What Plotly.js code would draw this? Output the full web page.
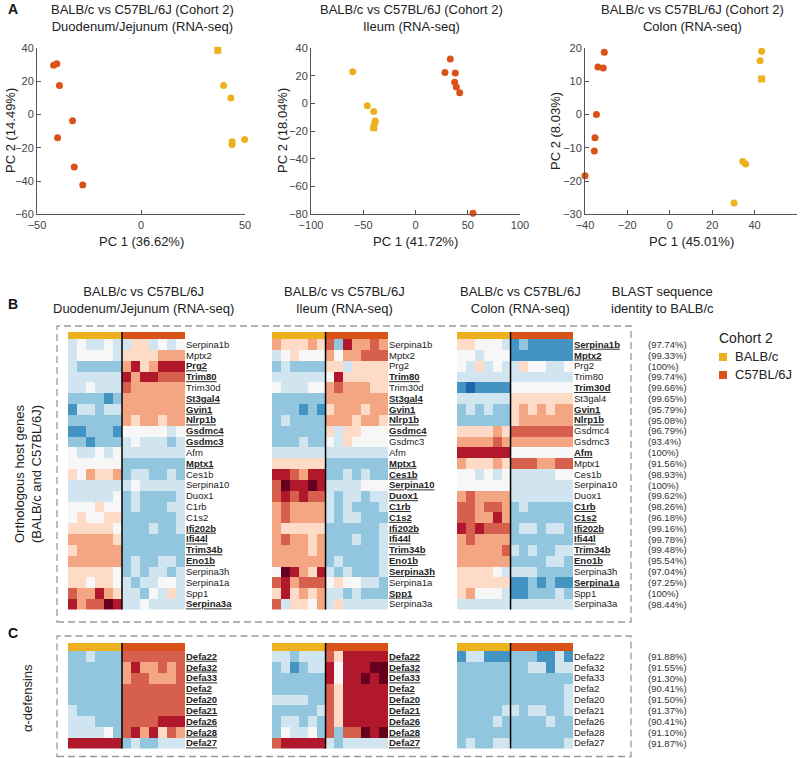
<!DOCTYPE html>
<html><head><meta charset="utf-8">
<script src="https://cdn.plot.ly/plotly-3.0.1.min.js"></script>
<style>html,body{margin:0;padding:0;background:#fff;} #chart{width:800px;height:758px;}</style>
</head><body><div id="chart"></div>
<script>
// ---------- PCA data (panel A) ----------
const duoBalbX = [36.9, 39.7, 43.2, 43.8, 43.8, 49.8];
const duoBalbY = [38.6, 17.4, 10.0, -16.4, -18.0, -15.0];
const duoB6X = [-42.0, -40.5, -39.2, -32.9, -40.1, -32.1, -28.0];
const duoB6Y = [29.6, 30.6, 17.4, -3.8, -14.0, -31.6, -42.4];
const ileBalbX = [-60.1, -46.1, -40.0, -38.5, -39.0, -40.0];
const ileBalbY = [22.8, -1.7, -5.8, -12.6, -14.5, -17.6];
const ileB6X = [33.3, 28.2, 38.1, 37.5, 39.1, 42.3, 55.0];
const ileB6Y = [32.0, 22.4, 21.9, 15.2, 11.8, 7.7, -79.3];
const colBalbX = [43.3, 42.6, 43.3, 34.4, 35.8, 30.3];
const colBalbY = [19.0, 16.2, 10.7, -14.1, -14.9, -26.6];
const colB6X = [-30.9, -33.9, -31.4, -34.6, -35.3, -35.6, -40.0];
const colB6Y = [18.7, 14.3, 14.0, 0.0, -7.0, -11.0, -18.4];
// index of the BALB/c sample drawn as a square in each PCA
const duoSquare = 0, ileSquare = 5, colSquare = 2;
const pcaTitles = ['Duodenum/Jejunum (RNA-seq)', 'Ileum (RNA-seq)', 'Colon (RNA-seq)'];
const pc1Labels = ['PC 1 (36.62%)', 'PC 1 (41.72%)', 'PC 1 (45.01%)'];
const pc2Labels = ['PC 2 (14.49%)', 'PC 2 (18.04%)', 'PC 2 (8.03%)'];

// ---------- Heatmap data (panels B, C) ----------
const groupNames = ['BALB/c', 'C57BL/6J'];
const nBalb = 6, nB6 = 7;
const hostGenes = ['Serpina1b','Mptx2','Prg2','Trim80','Trim30d','St3gal4','Gvin1','Nlrp1b','Gsdmc4','Gsdmc3','Afm','Mptx1','Ces1b','Serpina10','Duox1','C1rb','C1s2','Ifi202b','Ifi44l','Trim34b','Eno1b','Serpina3h','Serpina1a','Spp1','Serpina3a'];
const hostIdentity = ['(97.74%)','(99.33%)','(100%)','(99.74%)','(99.66%)','(99.65%)','(95.79%)','(95.08%)','(96.79%)','(93.4%)','(100%)','(91.56%)','(98.93%)','(100%)','(99.62%)','(98.26%)','(96.18%)','(99.16%)','(99.78%)','(99.48%)','(95.54%)','(97.04%)','(97.25%)','(100%)','(98.44%)'];
const defGenes = ['Defa22','Defa32','Defa33','Defa2','Defa20','Defa21','Defa26','Defa28','Defa27'];
const defIdentity = ['(91.88%)','(91.55%)','(91.30%)','(90.41%)','(91.50%)','(91.37%)','(90.41%)','(91.10%)','(91.87%)'];
// significant (bold, underlined) genes per tissue
const duoSigHost = ['Prg2','Trim80','St3gal4','Gvin1','Nlrp1b','Gsdmc4','Gsdmc3','Mptx1','Ifi202b','Ifi44l','Trim34b','Eno1b','Serpina3a'];
const ileSigHost = ['Trim80','St3gal4','Gvin1','Nlrp1b','Gsdmc4','Mptx1','Ces1b','Serpina10','Duox1','C1rb','C1s2','Ifi202b','Ifi44l','Trim34b','Eno1b','Serpina3h','Spp1'];
const colSigHost = ['Serpina1b','Mptx2','Trim30d','Gvin1','Nlrp1b','Afm','C1rb','C1s2','Ifi202b','Ifi44l','Trim34b','Eno1b','Serpina1a'];
const duoSigDef = defGenes.slice();
const ileSigDef = defGenes.slice();
const colSigDef = [];

// binned z-scores (-4 .. 5), 6 BALB/c then 7 C57BL/6J columns
const duoHostZ = [
 [-1,0,-1,-1,0,-1, -1,1,1,-1,0,-1,0],
 [-1,0,0,0,0,-1, 1,1,1,1,2,2,2],
 [-1,-2,-2,-2,-2,-2, 2,4,1,2,4,4,4],
 [-1,-1,-1,-1,-1,-1, 4,2,4,4,3,3,3],
 [-1,-1,0,-1,-1,-1, 3,2,2,2,2,2,2],
 [-2,-2,-2,-2,-3,-2, 2,2,2,2,2,2,2],
 [-3,-1,-1,-2,-1,-1, 2,2,2,2,2,2,2],
 [-2,-2,-2,-2,-2,-2, 2,1,2,2,1,2,2],
 [-3,-3,-2,-2,-2,-3, 0,0,0,0,0,-1,0],
 [-2,-2,-3,-2,-2,-2, -1,0,-1,-1,-1,-2,-1],
 [0,-1,-1,0,-1,0, -1,-1,-1,-1,-1,-1,-1],
 [0,0,0,0,0,0, -2,-2,-2,-2,-2,-2,-2],
 [1,0,2,1,1,2, -2,-1,-1,-2,-2,-1,-2],
 [-1,-1,-1,-1,-1,-1, -1,0,-1,-1,-1,-1,-1],
 [-1,-1,-1,-1,-1,0, -2,-1,-2,-2,-2,-2,-1],
 [0,0,0,1,0,0, -2,-1,-2,-2,-2,-1,-1],
 [0,1,0,0,1,1, -2,-2,-2,-2,-2,-2,-1],
 [1,1,1,1,1,0, -2,-2,-2,-1,-2,-2,-1],
 [2,2,2,2,2,1, -2,-2,-2,-2,-2,-2,-2],
 [1,2,2,2,2,2, -2,-2,-2,-2,-2,-2,-2],
 [2,2,2,2,2,2, -2,-1,-2,-2,-1,-1,-2],
 [1,1,1,1,1,0, -2,-1,-2,-1,-1,-2,-1],
 [1,1,0,1,1,0, -1,-2,-1,-1,0,0,-1],
 [3,2,2,4,2,1, -1,-1,-2,0,-1,1,-1],
 [4,2,3,3,5,4, -1,-1,0,-1,-1,-1,-1]
];
const ileHostZ = [
 [2,1,1,1,2,1, 3,-2,4,2,2,3,2],
 [-1,0,1,0,0,0, 2,0,2,2,3,3,3],
 [-2,-1,-2,-2,-2,-2, 1,1,-1,1,1,1,1],
 [-1,-1,-1,-1,-1,-1, 0,4,1,1,1,1,1],
 [0,-1,-1,-1,0,0, 2,3,2,2,2,1,1],
 [-2,-2,-2,-2,-2,-2, 2,2,2,2,2,2,2],
 [-2,-2,-2,-3,-2,-3, 1,2,2,2,1,2,2],
 [-2,-1,-2,-2,-2,-2, 2,2,2,1,2,2,1],
 [-2,-2,-2,-2,-2,-2, 1,-1,1,1,0,0,0],
 [-2,-2,-2,-1,-2,-2, 0,-1,1,0,0,0,0],
 [-1,-1,-1,-1,-1,-1, -1,-1,-1,-1,-1,-1,-1],
 [1,1,1,1,1,1, -2,-2,-2,-2,-2,-2,-2],
 [4,4,3,2,4,4, -2,-2,-1,-2,-1,-2,-2],
 [3,5,4,4,5,4, -1,-1,-1,-1,0,0,0],
 [3,4,3,4,3,3, -1,-2,-1,-1,-2,-1,-1],
 [2,3,2,2,2,2, -1,-2,-1,-2,-2,-2,-1],
 [2,3,2,2,2,2, -1,-2,-1,-1,-2,-2,-2],
 [2,1,1,1,1,1, -2,-2,-2,-2,-2,-2,-1],
 [2,3,2,2,1,2, -2,-2,-2,-1,-2,-2,-1],
 [2,2,2,2,1,2, -2,-2,-2,-2,-2,-2,-1],
 [2,2,2,2,2,2, -2,-1,-2,-2,-2,-2,-1],
 [0,5,4,2,1,4, -1,-2,-1,-2,-2,-2,-1],
 [3,4,2,3,3,3, 0,1,0,0,-1,-1,-2],
 [1,4,1,2,1,2, -1,-1,-2,-1,-2,-2,-2],
 [3,-1,1,1,0,2, -1,1,-1,-1,-1,-1,-1]
];
const colHostZ = [
 [1,1,0,0,0,-1, -3,-2,-3,-3,-3,-3,-3],
 [0,0,-1,0,0,0, -3,-3,-3,-3,-3,-3,-3],
 [0,-1,1,-1,0,-1, -1,1,0,0,-1,-1,0],
 [-1,-1,-1,-1,-1,-1, -1,-1,-1,-1,-1,-1,-1],
 [-3,-4,-3,-3,-3,-3, 0,0,0,0,0,0,0],
 [-1,-1,-1,-1,-1,-1, 1,1,1,1,1,1,1],
 [-2,-1,-2,-1,-2,-2, 1,2,1,2,1,2,2],
 [-2,-2,-2,-2,-2,-2, 1,2,2,2,2,2,2],
 [1,1,1,1,2,1, 3,3,3,3,3,3,3],
 [2,2,2,2,3,2, 2,2,2,2,2,2,2],
 [4,4,4,4,4,4, 0,0,0,0,0,0,0],
 [2,1,1,1,2,1, 3,3,3,2,2,3,3],
 [0,0,-1,0,-1,0, -1,-1,-1,-1,-1,0,0],
 [0,0,0,0,0,0, -1,-1,-1,-1,-1,-1,-1],
 [2,3,2,2,2,2, -1,-1,-1,-1,-1,-1,-1],
 [3,3,2,3,3,2, -2,-1,-2,-2,-2,-2,-2],
 [3,3,2,2,4,2, -2,-2,-2,-2,-2,-2,-2],
 [4,3,4,3,3,3, -2,-1,-1,-2,-1,-1,-2],
 [2,3,2,2,2,2, -2,-2,-2,-2,-2,-2,-2],
 [2,2,2,2,2,3, -1,-2,-1,-2,-2,-1,-1],
 [2,2,2,2,2,2, -2,-2,-2,-2,-1,-1,-2],
 [1,1,1,1,0,-1, -1,-1,-1,-2,-2,-2,-2],
 [1,1,1,1,1,1, -3,-3,-2,-3,-2,-3,-3],
 [1,2,0,0,0,-1, -3,-3,-2,-2,-2,-1,-2],
 [-1,-1,-1,-1,-1,-1, -1,-1,-1,-1,-1,-1,-1]
];
const duoDefZ = [
 [-2,-2,-1,-2,-2,-2, 3,3,3,3,3,3,3],
 [-2,-2,-2,-2,-2,-2, 2,4,2,2,3,2,3],
 [-2,-2,-2,-2,-2,-2, 2,3,3,2,2,2,3],
 [-2,-2,-2,-2,-2,-2, 3,3,3,3,3,3,3],
 [-2,-2,-2,-2,-2,-2, 3,3,3,3,3,3,3],
 [-1,-2,-2,-2,-2,-2, 3,3,3,3,3,3,3],
 [-1,-1,-1,-2,-2,-2, 3,3,3,3,4,4,4],
 [-1,-1,-1,-1,0,-2, 3,4,2,4,1,3,2],
 [4,4,4,4,4,4, -2,-1,-2,-2,-1,-1,-1]
];
const ileDefZ = [
 [-1,-1,-2,-1,-1,-1, 3,1,4,4,4,4,4],
 [-2,-1,-3,-2,-1,-1, 4,0,4,4,4,5,5],
 [-2,-2,-2,-2,-2,-2, 4,0,4,4,5,4,5],
 [-2,-2,-2,-2,-2,-2, 3,1,4,4,4,4,4],
 [-1,-1,-1,-1,-2,-2, 3,1,4,4,4,4,4],
 [-2,-2,-2,-2,-2,-1, 3,1,4,4,4,4,4],
 [-2,-1,-1,-2,-1,-2, 3,1,4,4,4,4,4],
 [-2,0,-1,-1,0,-2, 3,-2,3,3,5,4,5],
 [3,4,4,4,4,4, -1,-2,-1,-1,-1,-1,-1]
];
const colDefZ = [
 [-3,-1,-1,-3,-3,-3, -2,-2,-2,-3,-3,-1,-3],
 [-2,-2,-2,-2,-2,-2, -2,-2,-1,-1,-3,-1,-1],
 [-2,-2,-2,-2,-2,-2, -2,-2,-2,-2,-2,-2,-2],
 [-2,-2,-2,-2,-2,-2, -2,-2,-2,-2,-2,-2,-1],
 [-2,-2,-2,-2,-2,-2, -2,-2,-2,-2,-2,-2,-1],
 [-2,-2,-2,-2,-2,-1, -1,-2,-1,-1,-2,-2,-1],
 [-2,-2,-2,-2,-1,-2, -2,-2,-2,-2,-1,-2,-2],
 [-2,-2,-2,-2,-2,-2, -2,-2,-2,-2,-2,-2,-2],
 [-2,-1,-2,-2,-1,-1, -2,-2,-2,-2,-2,-2,-1]
];
const tissueHeads = ['BALB/c vs C57BL/6J<br>Duodenum/Jejunum (RNA-seq)','BALB/c vs C57BL/6J<br>Ileum (RNA-seq)','BALB/c vs C57BL/6J<br>Colon (RNA-seq)'];

// ---------- styling / geometry ----------
const W = 800, H = 758;
const fx = p => p / W;
const fy = p => 1 - p / H;
const YEL = '#EDB120', ORG = '#D95319';
const FONT = 'Liberation Sans, Arial, Helvetica, sans-serif';
const rdbu = ['#2166ac','#4393c3','#92c5de','#d1e5f0','#f7f7f7','#fddbc7','#f4a582','#d6604d','#b2182b','#67001f'];
const cscale = [];
rdbu.forEach((c, i) => { cscale.push([i / rdbu.length, c]); cscale.push([(i + 1) / rdbu.length, c]); });

const data = [];
const layout = {
  width: W, height: H, margin: {l: 0, r: 0, t: 0, b: 0},
  paper_bgcolor: '#fff', plot_bgcolor: 'rgba(0,0,0,0)', showlegend: false,
  font: {family: FONT, color: '#222'},
  annotations: [], shapes: []
};
const ann = (o) => layout.annotations.push(Object.assign({showarrow: false, xref: 'paper', yref: 'paper', font: {family: FONT, size: 13, color: '#222'}}, o));

// ---------- Panel A scatter ----------
const pca = [
  {bx: duoBalbX, by: duoBalbY, rx: duoB6X, ry: duoB6Y, sq: duoSquare, xr: [-50, 50], yr: [-60, 40], dx: 50, dy: 20, px: [37, 245], cx: 142},
  {bx: ileBalbX, by: ileBalbY, rx: ileB6X, ry: ileB6Y, sq: ileSquare, xr: [-100, 100], yr: [-80, 40], dx: 50, dy: 20, px: [311, 520], cx: 411},
  {bx: colBalbX, by: colBalbY, rx: colB6X, ry: colB6Y, sq: colSquare, xr: [-40, 60], yr: [-30, 20], dx: 20, dy: 10, px: [585, 797], cx: 692}
];
const pcaYLabX = [10, 282, 555];
pca.forEach((p, i) => {
  const n = i + 1, xa = n === 1 ? 'x' : 'x' + n, ya = n === 1 ? 'y' : 'y' + n;
  const sym = p.bx.map((_, k) => k === p.sq ? 'square' : 'circle');
  data.push({type: 'scatter', mode: 'markers', x: p.rx, y: p.ry, xaxis: xa, yaxis: ya, name: groupNames[1], cliponaxis: false,
    marker: {color: ORG, size: 7, line: {width: 0}}, hoverinfo: 'x+y'});
  data.push({type: 'scatter', mode: 'markers', x: p.bx, y: p.by, xaxis: xa, yaxis: ya, name: groupNames[0], cliponaxis: false,
    marker: {color: YEL, size: 7, symbol: sym, line: {width: 0}}, hoverinfo: 'x+y'});
  const axBase = {showgrid: false, zeroline: false, showline: true, linecolor: '#555', linewidth: 1,
    ticks: 'inside', ticklen: 4, tickcolor: '#555', tickfont: {family: FONT, size: 11, color: '#444'}, fixedrange: true};
  layout['xaxis' + (n === 1 ? '' : n)] = Object.assign({}, axBase, {domain: [fx(p.px[0]), fx(p.px[1])], range: p.xr, dtick: p.dx, tick0: 0, anchor: ya});
  layout['yaxis' + (n === 1 ? '' : n)] = Object.assign({}, axBase, {domain: [fy(214.3), fy(48)], range: p.yr, dtick: p.dy, tick0: 0, anchor: xa});
  ann({x: fx(p.cx), y: fy(18), text: 'BALB/c vs C57BL/6J (Cohort 2)<br>' + pcaTitles[i], xanchor: 'center', yanchor: 'middle'});
  ann({x: fx((p.px[0] + p.px[1]) / 2), y: fy(242), text: pc1Labels[i], xanchor: 'center', yanchor: 'middle'});
  ann({x: fx(pcaYLabX[i]), y: fy(131), text: pc2Labels[i], textangle: -90, xanchor: 'center', yanchor: 'middle'});
});

// ---------- Panels B and C heatmaps ----------
const sigLabel = (genes, sig) => genes.map(g => sig.includes(g) ? '<b><u>' + g + '</u></b>' : g);
const hmX = [[68, 185], [272, 388], [457, 573]];
const blocks = [
  {zs: [duoHostZ, ileHostZ, colHostZ], genes: hostGenes, sig: [duoSigHost, ileSigHost, colSigHost], ident: hostIdentity, top: 339, bot: 609.5, bar: 332},
  {zs: [duoDefZ, ileDefZ, colDefZ], genes: defGenes, sig: [duoSigDef, ileSigDef, colSigDef], ident: defIdentity, top: 651, bot: 748.5, bar: 643}
];
let ax = 4;
blocks.forEach((b) => {
  b.zs.forEach((z, t) => {
    const xa = 'x' + ax, ya = 'y' + ax;
    const rows = b.genes.map((_, i) => i);
    data.push({type: 'heatmap', z: z, y: rows, xaxis: xa, yaxis: ya, colorscale: cscale, zmin: -4.5, zmax: 5.5,
      showscale: false, hoverinfo: 'z'});
    layout['xaxis' + ax] = {domain: [fx(hmX[t][0]), fx(hmX[t][1])], range: [-0.5, nBalb + nB6 - 0.5], anchor: ya,
      showgrid: false, zeroline: false, showticklabels: false, ticks: '', showline: false, fixedrange: true};
    layout['yaxis' + ax] = {domain: [fy(b.bot), fy(b.top)], range: [b.genes.length - 0.5, -0.5], anchor: xa, side: 'right',
      showgrid: false, zeroline: false, showline: false, ticks: '', tickvals: rows, ticktext: sigLabel(b.genes, b.sig[t]),
      tickfont: {family: FONT, size: 9.5, color: '#222'}, fixedrange: true};
    // group colour bars
    layout.shapes.push({type: 'rect', xref: xa, yref: 'paper', x0: -0.5, x1: nBalb - 0.5, y0: fy(b.top), y1: fy(b.bar), fillcolor: YEL, line: {width: 0}});
    layout.shapes.push({type: 'rect', xref: xa, yref: 'paper', x0: nBalb - 0.5, x1: nBalb + nB6 - 0.5, y0: fy(b.top), y1: fy(b.bar), fillcolor: ORG, line: {width: 0}});
    layout.shapes.push({type: 'line', xref: xa, yref: 'paper', x0: nBalb - 0.5, x1: nBalb - 0.5, y0: fy(b.bot), y1: fy(b.bar), line: {color: '#000', width: 1.5}});
    if (t === 2) {
      b.ident.forEach((s, i) => ann({x: fx(646), xanchor: 'left', yref: ya, y: i, yanchor: 'middle', text: s, font: {family: FONT, size: 9.5, color: '#333'}}));
    }
    ax++;
  });
});

// headers of panel B
const headX = [143, 344, 520];
tissueHeads.forEach((h, i) => ann({x: fx(headX[i]), y: fy(300), text: h, xanchor: 'center', yanchor: 'middle'}));
ann({x: fx(662), y: fy(300), text: 'BLAST sequence<br>identity to BALB/c', xanchor: 'center', yanchor: 'middle'});

// dashed frames
const dash = {color: '#9a9a9a', width: 1.3, dash: '7px,4px'};
layout.shapes.push({type: 'rect', xref: 'paper', yref: 'paper', x0: fx(57), x1: fx(631), y0: fy(622), y1: fy(326), line: dash});
layout.shapes.push({type: 'rect', xref: 'paper', yref: 'paper', x0: fx(57), x1: fx(631), y0: fy(756.5), y1: fy(636), line: dash});

// side labels
ann({x: fx(28), y: fy(474), text: 'Orthologous host genes<br>(BALB/c and C57BL/6J)', textangle: -90, xanchor: 'center', yanchor: 'middle'});
ann({x: fx(27), y: fy(698), text: 'α-defensins', textangle: -90, xanchor: 'center', yanchor: 'middle'});

// panel letters
ann({x: fx(6), y: fy(9), text: '<b>A</b>', xanchor: 'left', yanchor: 'middle', font: {family: FONT, size: 14, color: '#111'}});
ann({x: fx(6), y: fy(304), text: '<b>B</b>', xanchor: 'left', yanchor: 'middle', font: {family: FONT, size: 14, color: '#111'}});
ann({x: fx(6), y: fy(633), text: '<b>C</b>', xanchor: 'left', yanchor: 'middle', font: {family: FONT, size: 14, color: '#111'}});

// legend (Cohort 2)
ann({x: fx(717), y: fy(338), text: 'Cohort 2', xanchor: 'left', yanchor: 'middle', font: {family: FONT, size: 14, color: '#222'}});
[YEL, ORG].forEach((c, i) => {
  const yc = 357 + i * 18;
  layout.shapes.push({type: 'rect', xref: 'paper', yref: 'paper', x0: fx(719), x1: fx(727), y0: fy(yc + 4), y1: fy(yc - 4), fillcolor: c, line: {width: 0}});
  ann({x: fx(733), y: fy(yc), text: groupNames[i], xanchor: 'left', yanchor: 'middle', font: {family: FONT, size: 13, color: '#222'}});
});

Plotly.newPlot('chart', data, layout, {displayModeBar: false, staticPlot: true});
</script>
</body></html>
